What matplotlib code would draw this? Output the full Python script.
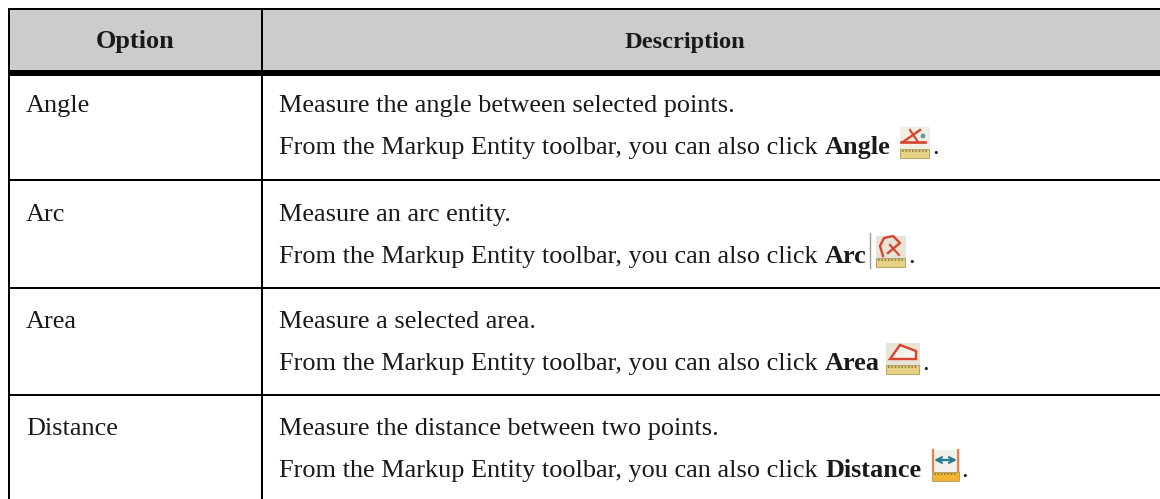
import matplotlib
matplotlib.use("Agg")
from matplotlib import pyplot as plt
from matplotlib.patches import Rectangle, Polygon, Circle

W, H = 1160, 499

headers = ["Option", "Description"]
options = ["Angle", "Arc", "Area", "Distance"]
descriptions = [
    "Measure the angle between selected points.",
    "Measure an arc entity.",
    "Measure a selected area.",
    "Measure the distance between two points.",
]
toolbar_text = "From the Markup Entity toolbar, you can also click"
click_names = ["Angle", "Arc", "Area", "Distance"]

row_lines = [180, 288, 395]
first_base = [112, 221, 328, 435]
second_base = [154, 263, 370, 477]
bold_x = [825, 825, 825, 826]
icon_x = [900, 876, 886, 932]
icon_w = [30, 30, 34, 28]
dot_x = [932, 908, 922, 961]

serif = ["Liberation Serif", "DejaVu Serif"]
FS = 18.9
INK = "#1a1a1a"
RED = "#d8432c"

fig = plt.figure(figsize=(W / 100, H / 100), dpi=100)
ax = fig.add_axes([0, 0, 1, 1])
ax.set_xlim(0, W)
ax.set_ylim(H, 0)
ax.axis("off")

# header band
ax.add_patch(Rectangle((9, 9), W, 61, fc="#cccccc", ec="none"))
ax.add_patch(Rectangle((8, 8), W, 2, fc="black", ec="none"))
ax.add_patch(Rectangle((8, 70), W, 6, fc="black", ec="none"))

# rules
ax.add_patch(Rectangle((8, 8), 2, H, fc="black", ec="none"))
ax.add_patch(Rectangle((261, 8), 2, H, fc="black", ec="none"))
for y in row_lines:
    ax.add_patch(Rectangle((8, y - 1), W, 2, fc="black", ec="none"))

ax.text(135.5, 48, headers[0], family=serif, weight="bold", fontsize=FS, ha="center", va="baseline", color=INK)
ax.text(685, 48, headers[1], family=serif, weight="bold", fontsize=17.6, ha="center", va="baseline", color=INK)


def draw_icon(i, x, base):
    w = icon_w[i]
    bg = ["#f1eee4", "#e6e3d8", "#e6e3d8", "#f1f0ea"][i]
    ax.add_patch(Rectangle((x, base - 27), w, 31, fc=bg, ec="none"))
    if i == 0:
        ax.plot([x + 1, x + 25], [base - 12, base - 12], color=RED, lw=1.9)
        ax.plot([x + 3, x + 20], [base - 12, base - 24], color=RED, lw=1.7)
        ax.plot([x + 10, x + 18], [base - 24, base - 12], color=RED, lw=1.5)
        ax.add_patch(Circle((x + 23, base - 18), 2.4, fc="#6f93ad", ec="none"))
    elif i == 1:
        ax.plot([x + 7, x + 4, x + 8, x + 17, x + 24, x + 12], [base - 7, base - 17, base - 25, base - 27, base - 20, base - 10],
                color=RED, lw=1.7)
        ax.plot([x + 14, x + 23], [base - 18, base - 8], color=RED, lw=1.5)
    elif i == 2:
        ax.add_patch(Polygon([(x + 4, base - 11), (x + 14, base - 25), (x + 30, base - 19), (x + 30, base - 11)],
                             closed=True, fc="#f4f2ec", ec=RED, lw=1.7))
    else:
        ax.plot([x + 1, x + 1], [base - 27, base - 6], color="#e8824a", lw=1.6)
        ax.plot([x + 26, x + 26], [base - 27, base - 6], color="#e8824a", lw=1.6)
        ax.annotate("", xy=(x + 2, base - 17), xytext=(x + 25, base - 17),
                    arrowprops=dict(arrowstyle="<->", color="#2a7a90", lw=1.6, shrinkA=0, shrinkB=0))
    # ruler along the bottom of every icon
    fill = "#f2b431" if i == 3 else "#e6d184"
    ax.add_patch(Rectangle((x, base - 5), w - 1, 8.5, fc=fill, ec="#b09a58", lw=0.6))
    ax.plot([x + 2, x + w - 3], [base - 3, base - 3], color="#8a7a40", lw=1.2, ls=(0, (1, 1)))


for i, name in enumerate(options):
    ax.text(26, first_base[i], name, family=serif, fontsize=FS, va="baseline", color=INK)
    ax.text(279, first_base[i], descriptions[i], family=serif, fontsize=FS, va="baseline", color=INK)
    ax.text(279, second_base[i], toolbar_text, family=serif, fontsize=FS, va="baseline", color=INK)
    ax.text(bold_x[i], second_base[i], click_names[i], family=serif, weight="bold", fontsize=FS, va="baseline", color=INK)
    draw_icon(i, icon_x[i], second_base[i])
    ax.text(dot_x[i], second_base[i], ".", family=serif, fontsize=FS, va="baseline", color=INK)

# separator next to the Arc icon
ax.plot([870, 870], [233, 268], color="#9a9a9a", lw=1)

fig.savefig("out.png", dpi=100)
